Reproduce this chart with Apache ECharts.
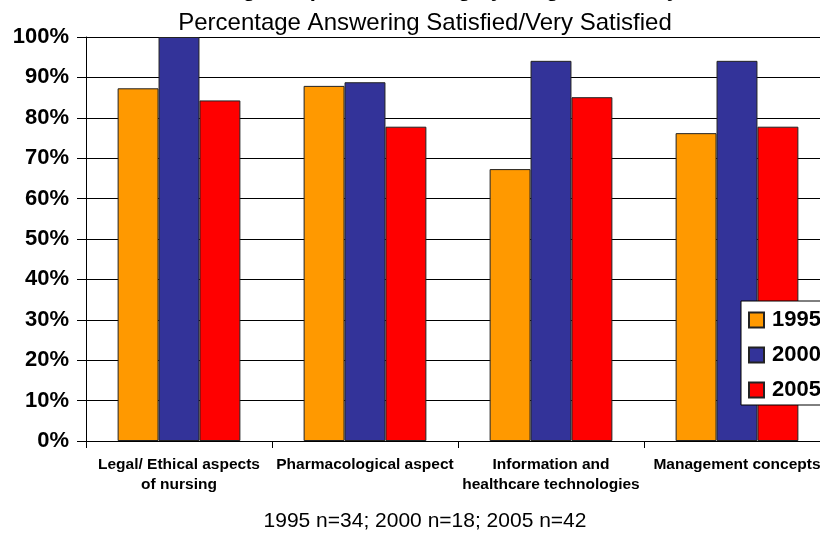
<!DOCTYPE html>
<html>
<head>
<meta charset="utf-8">
<script src="https://cdn.jsdelivr.net/npm/echarts@6/dist/echarts.min.js"></script>
<style>html,body{margin:0;padding:0;background:#fff;overflow:hidden;width:820px;height:533px;}#c{width:832px;height:533px;}</style>
</head>
<body>
<div id="c"></div>
<script>
var categories = ['Legal/ Ethical aspects\nof nursing', 'Pharmacological aspect', 'Information and\nhealthcare technologies', 'Management concepts'];
var seriesNames = ['1995', '2000', '2005'];
var values1995 = [0.873, 0.879, 0.673, 0.762];
var values2000 = [1.000, 0.888, 0.941, 0.941];
var values2005 = [0.843, 0.778, 0.851, 0.778];
var yTicks = [0, 0.1, 0.2, 0.3, 0.4, 0.5, 0.6, 0.7, 0.8, 0.9, 1.0];
var colors = ['#FF9900', '#333399', '#FF0000'];

var chart = echarts.init(document.getElementById('c'));
var font = 'Liberation Sans, Arial, sans-serif';
function bar(name, data, color) {
  return {
    name: name, type: 'bar', data: data,
    barGap: '0%', barCategoryGap: '34%',
    itemStyle: { color: color, borderColor: '#222', borderWidth: 1 }
  };
}
chart.setOption({
  animation: false,
  color: colors,
  title: [
    { text: 'Knowledge Preparation Rating by Program Survey', left: 410, textAlign: 'center', top: -26,
      textStyle: { fontFamily: font, fontSize: 22, fontWeight: 'bold', color: '#000' } },
    { text: 'Percentage Answering Satisfied/Very Satisfied', left: 420, textAlign: 'center', top: 6,
      textStyle: { fontFamily: font, fontSize: 24, fontWeight: 'normal', color: '#000' } },
    { text: '1995 n=34; 2000 n=18; 2005 n=42', left: 420, textAlign: 'center', top: 506,
      textStyle: { fontFamily: font, fontSize: 21, fontWeight: 'normal', color: '#000' } }
  ],
  legend: {
    data: seriesNames, orient: 'vertical', left: 741, top: 301,
    backgroundColor: '#fff', borderColor: '#000', borderWidth: 1,
    padding: [8, 40, 4, 7], itemWidth: 15, itemHeight: 15, itemGap: 13,
    icon: 'rect',
    textStyle: { fontFamily: font, fontSize: 22, fontWeight: 'bold', color: '#000', padding: [0, 0, 0, 3] }
  },
  grid: { left: 86, top: 37, bottom: 92, right: 2, containLabel: false },
  xAxis: {
    type: 'category', data: categories,
    axisLine: { lineStyle: { color: '#000', width: 1 } },
    axisTick: { show: true, length: 7, lineStyle: { color: '#000' } },
    axisLabel: { interval: 0, margin: 14, fontFamily: font, fontSize: 15.5, fontWeight: 'bold', color: '#000', lineHeight: 20 }
  },
  yAxis: {
    type: 'value', min: 0, max: 1, interval: 0.1,
    axisLine: { show: true, lineStyle: { color: '#000', width: 1 } },
    axisTick: { show: true, length: 9, lineStyle: { color: '#000' } },
    splitLine: { show: true, lineStyle: { color: '#000', width: 1 } },
    axisLabel: { margin: 17, fontFamily: font, fontSize: 22, fontWeight: 'bold', color: '#000',
      formatter: function (v) { return Math.round(v * 100) + '%'; } }
  },
  series: [
    bar(seriesNames[0], values1995, colors[0]),
    bar(seriesNames[1], values2000, colors[1]),
    bar(seriesNames[2], values2005, colors[2])
  ]
});
</script>
</body>
</html>
